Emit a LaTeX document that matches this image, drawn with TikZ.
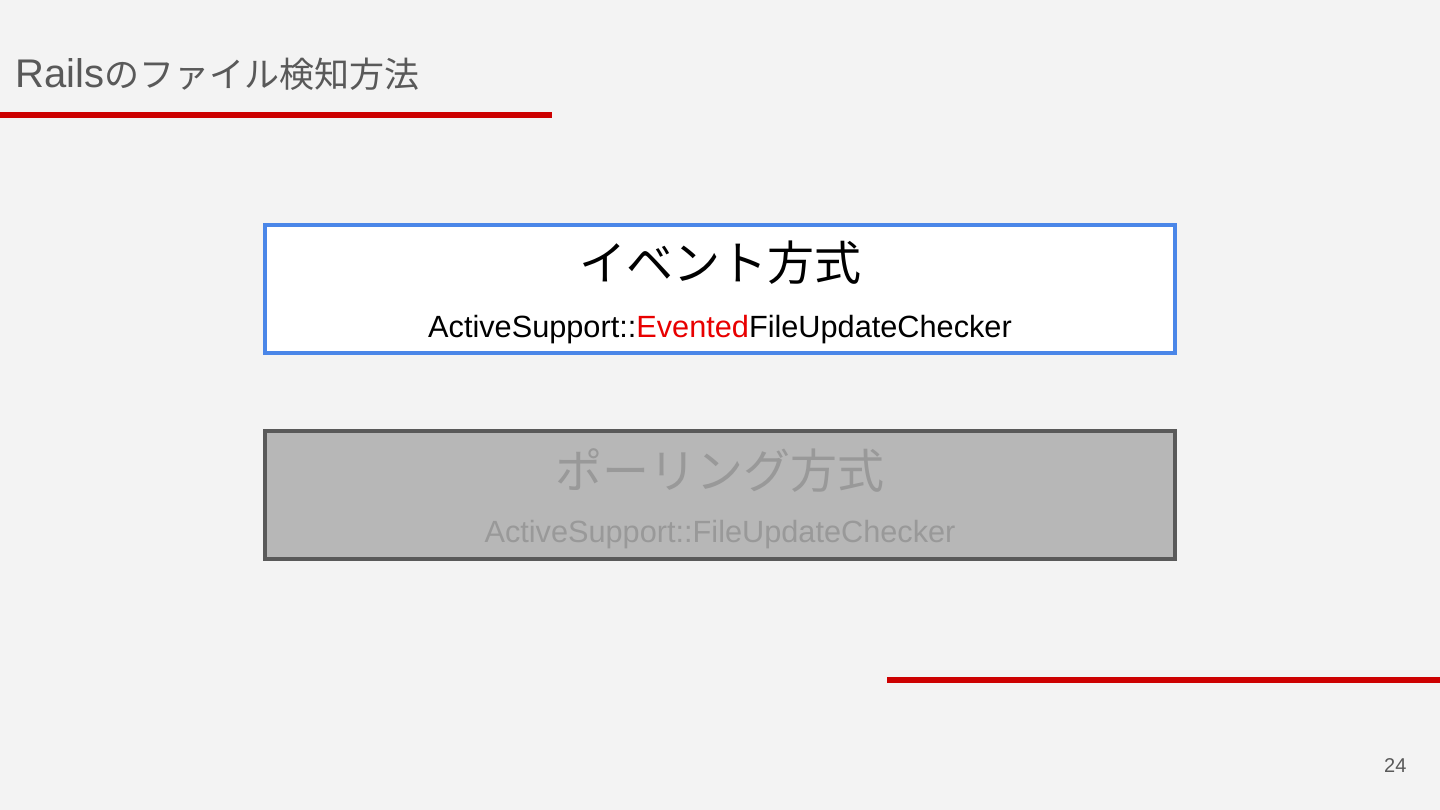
\documentclass[tikz,border=0pt]{standalone}
\usepackage{fontspec}
\setmainfont{Liberation Sans}
\newfontfamily\jp{Noto Sans CJK JP}
\definecolor{bg}{HTML}{F3F3F3}
\definecolor{accent}{HTML}{CC0000}
\definecolor{boxblue}{HTML}{4A86E8}
\definecolor{darkgray}{HTML}{595959}
\definecolor{boxgray}{HTML}{B7B7B7}
\definecolor{fadedtext}{HTML}{999999}
\definecolor{hilite}{HTML}{E80000}
\begin{document}
\begin{tikzpicture}[x=1pt,y=-1pt,
  redbar/.style={line width=6pt, draw=accent},
  panel/.style={rectangle, line width=4pt, minimum width=910pt, minimum height=128pt, inner sep=0pt},
  headtext/.style={anchor=base, inner sep=0pt, font=\jp\fontsize{47}{50}\selectfont},
  subtext/.style={anchor=base, inner sep=0pt, font=\fontsize{30.7}{34}\selectfont}]
\fill[bg] (0,0) rectangle (1440,810);
\useasboundingbox (0,0) rectangle (1440,810);
% title
\node[anchor=base west, inner sep=0pt, text=darkgray] (title) at (15,88)
  {\fontsize{40}{44}\selectfont Rails{\jp\fontsize{35}{40}\selectfont のファイル検知方法}};
\coordinate (t1) at (0,115);
\coordinate (t2) at (552,115);
\draw[redbar] (t1) -- (t2);
\coordinate (b1) at (887,680);
\coordinate (b2) at (1440,680);
\draw[redbar] (b1) -- (b2);
% boxes
\node[panel, draw=boxblue, fill=white] (event) at (720,289) {};
\node[headtext, text=black] (eventhead) at (720,281) {イベント方式};
\node[subtext, text=black] (eventsub) at (720,337) {ActiveSupport::\textcolor{hilite}{Evented}FileUpdateChecker};
\node[panel, draw=darkgray, fill=boxgray] (poll) at (720,495) {};
\node[headtext, text=fadedtext] (pollhead) at (720,488) {ポーリング方式};
\node[subtext, text=fadedtext] (pollsub) at (720,542) {ActiveSupport::FileUpdateChecker};
% page number
\node[anchor=base west, inner sep=0pt, text=darkgray, font=\fontsize{20}{24}\selectfont] (page) at (1384,772) {24};
\end{tikzpicture}
\end{document}
